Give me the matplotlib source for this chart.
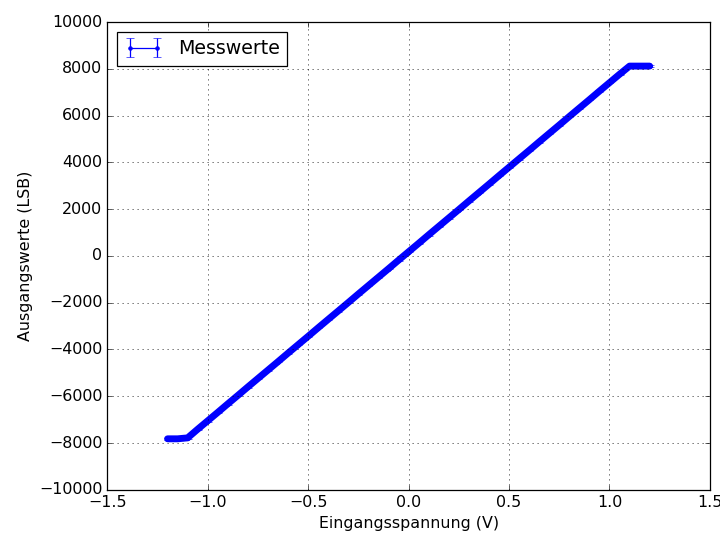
import matplotlib
matplotlib.use("Agg")
import matplotlib.pyplot as plt

plt.style.use("classic")
plt.rcParams["font.size"] = 12.7

# Eingangsspannung in V, Ausgangswerte in LSB
spannung = [-1.20, -1.15, -1.10, -1.05, -1.00, -0.95, -0.90, -0.85, -0.80, -0.75,
            -0.70, -0.65, -0.60, -0.55, -0.50, -0.45, -0.40, -0.35, -0.30, -0.25,
            -0.20, -0.15, -0.10, -0.05, 0.00, 0.05, 0.10, 0.15, 0.20, 0.25,
            0.30, 0.35, 0.40, 0.45, 0.50, 0.55, 0.60, 0.65, 0.70, 0.75,
            0.80, 0.85, 0.90, 0.95, 1.00, 1.05, 1.10, 1.15, 1.20]
ausgang = [-7820, -7820, -7780, -7410, -7050, -6690, -6325, -5965, -5600, -5240,
           -4880, -4520, -4155, -3795, -3435, -3070, -2710, -2350, -1990, -1625,
           -1265, -905, -545, -180, 180, 540, 905, 1265, 1625, 1985,
           2350, 2710, 3070, 3435, 3795, 4155, 4515, 4880, 5240, 5600,
           5965, 6325, 6685, 7050, 7410, 7770, 8120, 8120, 8120]
fehler = [30] * len(ausgang)

fig = plt.figure(figsize=(8, 6), dpi=90)
ax = fig.add_subplot(111)
fig.subplots_adjust(left=0.149, right=0.986, top=0.959, bottom=0.093)

# dichte Messpunkte als breites Band
ax.plot(spannung, ausgang, "b-", lw=5.5, solid_capstyle="round")
ax.errorbar(spannung, ausgang, yerr=fehler, fmt="b.-", label="Messwerte")

ax.set_xlim(-1.5, 1.5)
ax.set_ylim(-10000, 10000)
ax.set_yticks(range(-10000, 10001, 2000))
ax.set_xlabel("Eingangsspannung (V)")
ax.set_ylabel("Ausgangswerte (LSB)")
ax.grid(True)
ax.legend(loc="upper left")

fig.savefig("out.png", dpi=90)
